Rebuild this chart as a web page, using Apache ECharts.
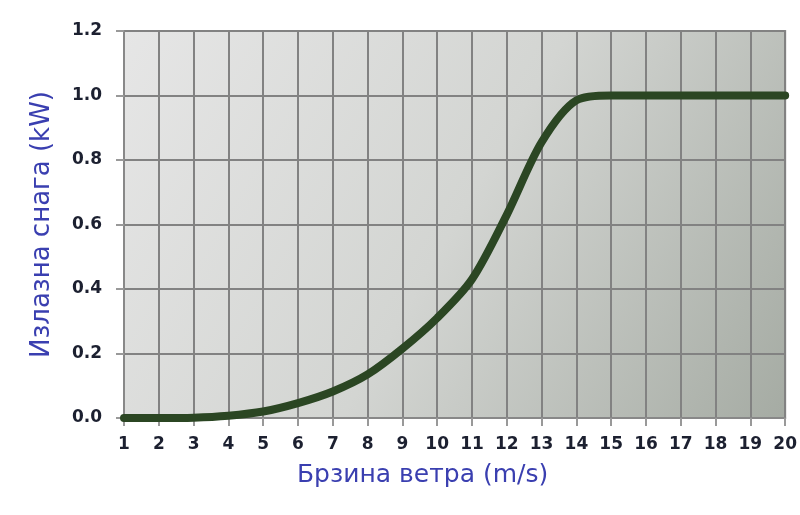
<!DOCTYPE html>
<html><head><meta charset="utf-8">
<script src="https://cdn.jsdelivr.net/npm/echarts@6/dist/echarts.min.js"></script>
<style>html,body{margin:0;padding:0;background:#fff}#c{width:800px;height:515px}</style>
</head><body><div id="c"></div>
<script>
const windSpeed = [1, 2, 3, 4, 5, 6, 7, 8, 9, 10, 11, 12, 13, 14, 15, 16, 17, 18, 19, 20];
const power = [0, 0, 0.001, 0.007, 0.02, 0.046, 0.082, 0.135, 0.215, 0.31, 0.43, 0.63, 0.855, 0.985, 1.0, 1.0, 1.0, 1.0, 1.0, 1.0];
const xTicks = [1, 20, 1];
const yTicks = [0, 1.2, 0.2];
const xName = 'Брзина ветра (m/s)';
const yName = 'Излазна снага (kW)';

const chart = echarts.init(document.getElementById('c'));
const labelStyle = {fontFamily: 'DejaVu Sans', fontWeight: 'bold', fontSize: 17, color: '#1c2030'};
const nameFont = {fontFamily: 'DejaVu Sans', color: '#3a3fb0'};
chart.setOption({
  animation: false,
  grid: {left: 124, right: 10, top: 31, bottom: 97, show: true, borderColor: '#8a8a8a', borderWidth: 2,
    backgroundColor: new echarts.graphic.LinearGradient(0, 0, 1, 1, [
      {offset: 0, color: '#e6e6e6'}, {offset: 0.5, color: '#d3d5d2'}, {offset: 1, color: '#a5aba3'}])},
  xAxis: {type: 'value', min: xTicks[0], max: xTicks[1], interval: xTicks[2],
    name: xName, nameLocation: 'middle', nameGap: 45,
    nameTextStyle: Object.assign({fontSize: 25, padding: [0, 64, 0, 0]}, nameFont),
    axisLine: {lineStyle: {color: '#888', width: 2}},
    axisTick: {show: true, length: 8, lineStyle: {color: '#999', width: 2}},
    axisLabel: Object.assign({margin: 18}, labelStyle),
    splitLine: {show: true, lineStyle: {color: '#828282', width: 2}}},
  yAxis: {type: 'value', min: yTicks[0], max: yTicks[1], interval: yTicks[2],
    name: yName, nameLocation: 'middle', nameGap: 69,
    nameTextStyle: Object.assign({fontSize: 26}, nameFont),
    axisLine: {show: true, lineStyle: {color: '#888', width: 2}},
    axisTick: {show: true, length: 8, lineStyle: {color: '#999', width: 2}},
    axisLabel: Object.assign({margin: 22, formatter: v => v.toFixed(1)}, labelStyle),
    splitLine: {show: true, lineStyle: {color: '#828282', width: 2}}},
  series: [{type: 'line', data: windSpeed.map((x, i) => [x, power[i]]), smooth: 0.3,
    showSymbol: false, lineStyle: {color: '#2b4623', width: 8, cap: 'round'}}]
});
</script></body></html>
